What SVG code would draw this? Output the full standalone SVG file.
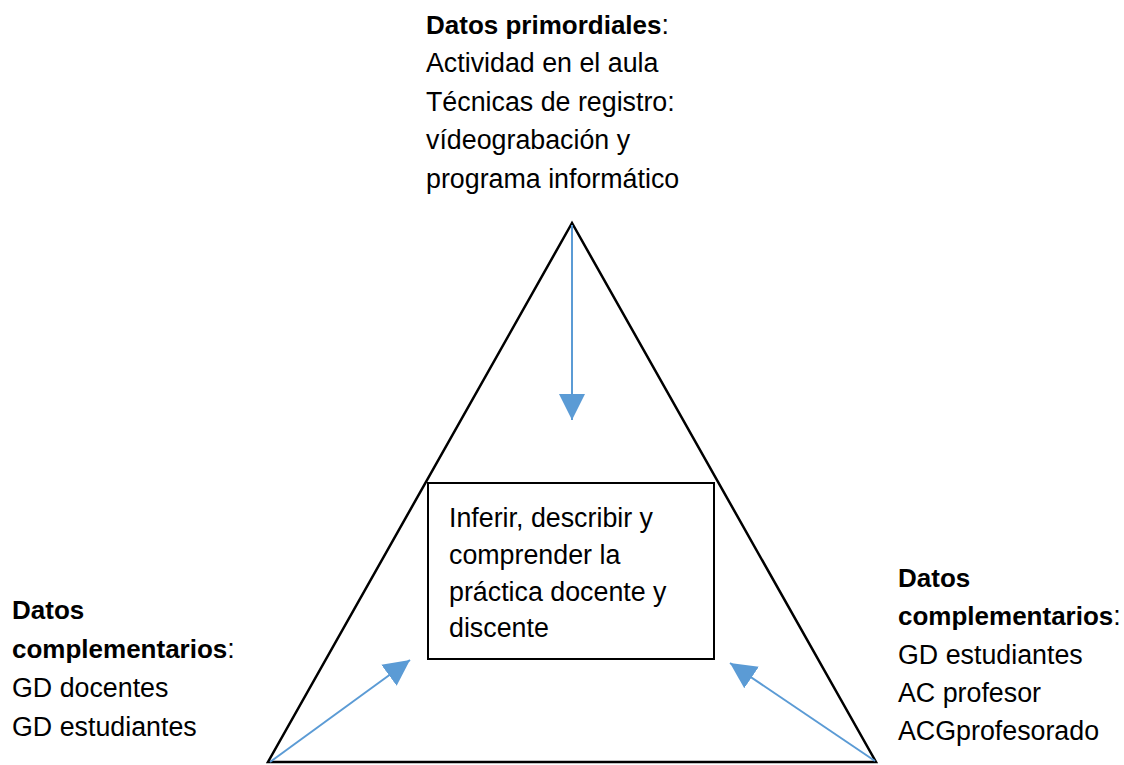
<svg xmlns="http://www.w3.org/2000/svg" width="1124" height="765" viewBox="0 0 1124 765">
<defs>
<style>
text{font-family:"Liberation Sans",Arial,sans-serif;font-size:26.8px;fill:#000}
.b{font-weight:bold;font-size:26px}
.edge{stroke:#5B9BD5;stroke-width:2;fill:none}
.shape{stroke:#000;fill:none}
</style>
<marker id="ah" markerUnits="userSpaceOnUse" markerWidth="28" markerHeight="28" viewBox="0 0 28 28" refX="26" refY="14" orient="auto">
<path d="M0,1 L26,14 L0,27 Z" fill="#5B9BD5"/>
</marker>
</defs>
<rect width="1124" height="765" fill="#fff"/>
<g id="triangle">
<path class="shape" stroke-width="2.5" stroke-linejoin="miter" d="M572,223 L268,762 L876,762 Z"/>
</g>
<g id="center">
<rect class="shape" stroke-width="2" x="428" y="483" width="286" height="176" fill="#fff"/>
<text x="449" y="527">Inferir, describir y</text>
<text x="449" y="564">comprender la</text>
<text x="449" y="601">práctica docente y</text>
<text x="449" y="637">discente</text>
</g>
<g id="top">
<text x="426" y="34"><tspan class="b">Datos primordiales</tspan>:</text>
<text x="426" y="72">Actividad en el aula</text>
<text x="426" y="111">Técnicas de registro:</text>
<text x="426" y="149">vídeograbación y</text>
<text x="426" y="188">programa informático</text>
</g>
<g id="left">
<text x="12" y="619" class="b">Datos</text>
<text x="12" y="658"><tspan class="b">complementarios</tspan>:</text>
<text x="12" y="697">GD docentes</text>
<text x="12" y="736">GD estudiantes</text>
</g>
<g id="right">
<text x="898" y="587" class="b">Datos</text>
<text x="898" y="625"><tspan class="b">complementarios</tspan>:</text>
<text x="898" y="664">GD estudiantes</text>
<text x="898" y="702">AC profesor</text>
<text x="898" y="740">ACGprofesorado</text>
</g>
<g id="connectors">
<line class="edge" x1="572" y1="225" x2="572" y2="420" marker-end="url(#ah)"/>
<line class="edge" x1="270" y1="762" x2="410" y2="660" marker-end="url(#ah)"/>
<line class="edge" x1="875" y1="761" x2="730" y2="663" marker-end="url(#ah)"/>
</g>
</svg>
